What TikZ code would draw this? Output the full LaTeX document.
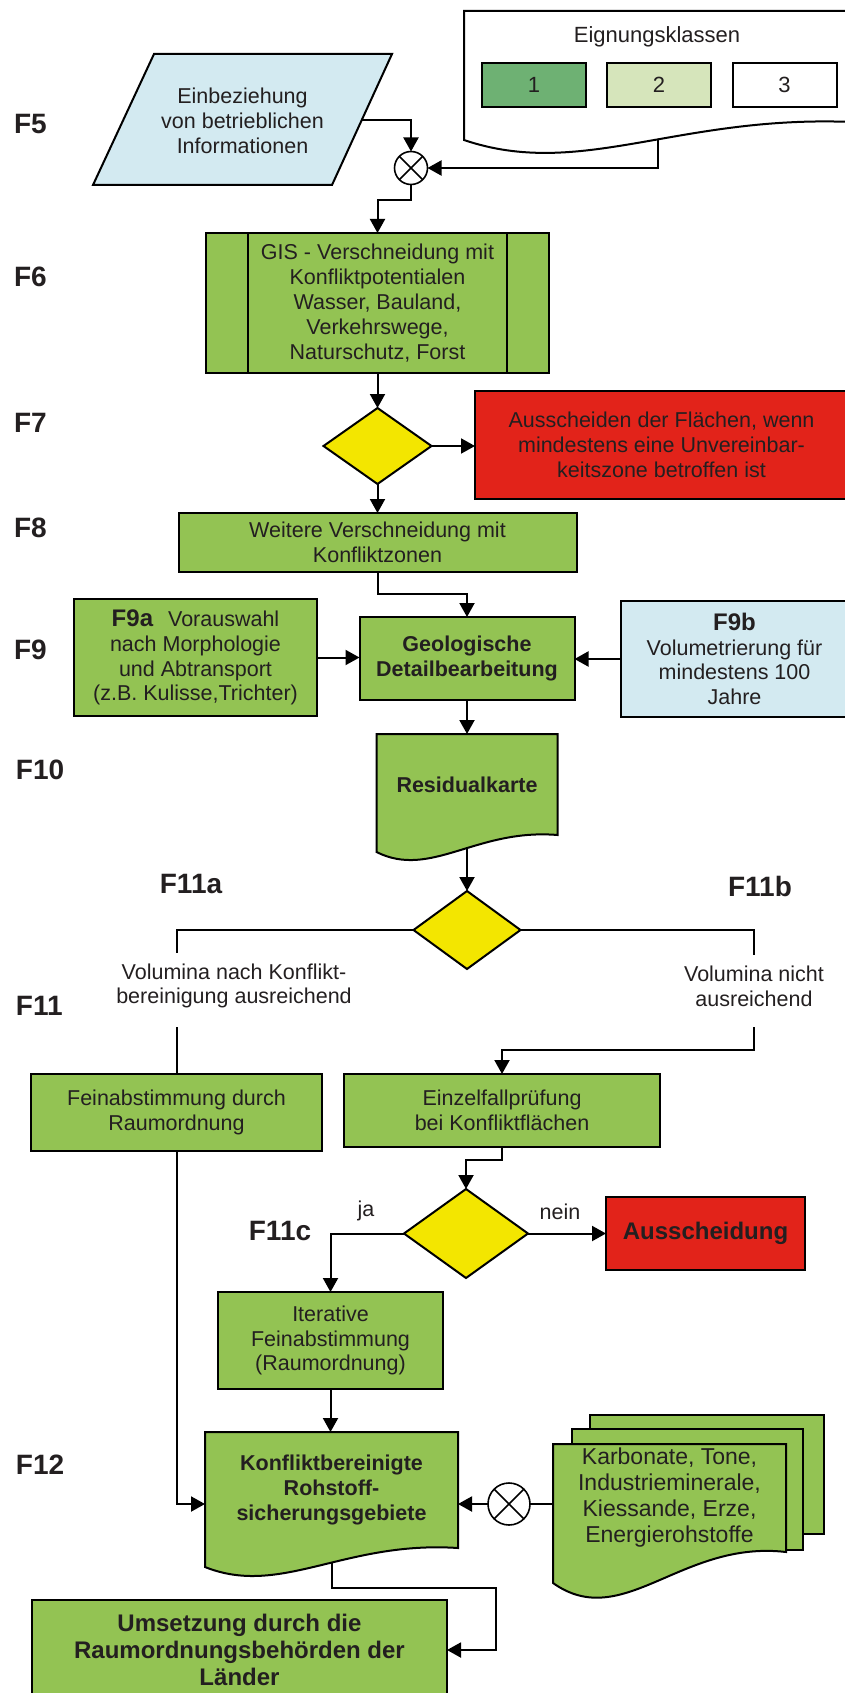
\documentclass[tikz,border=0pt]{standalone}
\usepackage{fontspec}
\setmainfont{Liberation Sans}
\usetikzlibrary{shapes.geometric,arrows.meta,calc,backgrounds}
\definecolor{flowgreen}{HTML}{93C353}
\definecolor{flowblue}{HTML}{D3EAF1}
\definecolor{flowred}{HTML}{E2231A}
\definecolor{flowyellow}{HTML}{F3E600}
\definecolor{classone}{HTML}{6EB173}
\definecolor{classtwo}{HTML}{D6E5BB}
\definecolor{inkgray}{HTML}{231F20}
\newcommand\docshape[4][]{%
  \begin{pgfonlayer}{background}
  \draw[#1] (#2.north west) -- (#2.north east) -- (#2.south east)
    .. controls ($(#2.south west)!0.55!(#2.south east)+(0,-0.4*#3)$)
           and ($(#2.south west)!0.3!(#2.south east)+(0,#4*#3)$)
    .. ($(#2.south west)+(0,#3)$) -- cycle;
  \end{pgfonlayer}}
\begin{document}
\begin{tikzpicture}[x=1pt,y=-1pt,
      every node/.style={inner sep=0pt,outer sep=0pt,align=center,text=inkgray,
                         font=\fontsize{21.5}{24.8}\selectfont},
      stage/.style={anchor=west,font=\fontsize{28}{30}\selectfont\bfseries},
      box/.style={rectangle,draw,line width=2pt,fill=flowgreen},
      redbox/.style={box,fill=flowred},
      bluebox/.style={box,fill=flowblue},
      decision/.style={diamond,draw,line width=2pt,fill=flowyellow},
      mixer/.style={circle,draw,line width=1.6pt,fill=white,minimum size=33pt,
                    path picture={\draw[line width=1.6pt]
                      (path picture bounding box.north west) -- (path picture bounding box.south east)
                      (path picture bounding box.north east) -- (path picture bounding box.south west);}},
      docbox/.style={rectangle},
      docgreen/.style={draw,line width=2pt,fill=flowgreen},
      docwhite/.style={draw,line width=2pt,fill=white},
      plainlink/.style={line width=2pt},
      arrowlink/.style={line width=2pt,-{Triangle[length=14pt,width=15pt]}}]
    \useasboundingbox (0,0) rectangle (845,1693);

    \node[stage] (lf5)  at (14,124)  {F5};
    \node[stage] (lf6)  at (14,277)  {F6};
    \node[stage] (lf7)  at (14,423)  {F7};
    \node[stage] (lf8)  at (14,528)  {F8};
    \node[stage] (lf9)  at (14,650)  {F9};
    \node[stage] (lf10) at (16,770)  {F10};
    \node[stage] (lf11) at (16,1006) {F11};
    \node[stage] (lf12) at (16,1465) {F12};
    \node[stage,anchor=center] (lf11a) at (191,884)  {F11a};
    \node[stage,anchor=center] (lf11b) at (760,886)  {F11b};
    \node[stage,anchor=center] (lf11c) at (280,1231) {F11c};

    \node[docbox,minimum width=388pt,minimum height=111pt] (eign) at (658,66.5) {};
    \docshape[docwhite]{eign}{18}{3.2}
    \node (eigntitle) at (657,37) {\fontsize{22}{24}\selectfont Eignungsklassen};
    \node[box,fill=classone,minimum width=104pt,minimum height=44pt] (k1) at (534,85)   {\fontsize{22}{24}\selectfont 1};
    \node[box,fill=classtwo,minimum width=104pt,minimum height=44pt] (k2) at (659,85)   {\fontsize{22}{24}\selectfont 2};
    \node[box,fill=white,minimum width=104pt,minimum height=44pt]    (k3) at (784.5,85) {\fontsize{22}{24}\selectfont 3};

    \node (info) at (242.5,121) {Einbeziehung\\von betrieblichen\\Informationen};
    \begin{pgfonlayer}{background}
      \draw[line width=2pt,fill=flowblue] (154,54) -- ++(238,0) -- ++(-60,131) -- ++(-239,0) -- cycle;
    \end{pgfonlayer}
    \coordinate (infoout) at (362,120);
    \coordinate (eignout) at ($(eign.south)+(0,17)$);
    \node[mixer] (mix1) at (411,168) {};
    \draw[arrowlink] (infoout) -| (mix1.north);
    \draw[arrowlink] (eignout) |- (mix1.east);

    \node[box,minimum width=343pt,minimum height=140pt] (gis) at (377.5,303)
      {GIS - Verschneidung mit\\Konfliktpotentialen\\Wasser, Bauland,\\Verkehrswege,\\Naturschutz, Forst};
    \draw[plainlink] ([xshift=42pt]gis.north west) -- ([xshift=42pt]gis.south west)
                     ([xshift=-42pt]gis.north east) -- ([xshift=-42pt]gis.south east);
    \draw[arrowlink] (mix1.south) -- ++(0,15.5) -| (gis.north);

    \node[decision,minimum width=108pt,minimum height=76pt] (d1) at (377.5,446) {};
    \node[redbox,minimum width=373pt,minimum height=108pt] (red1) at (661.5,445)
      {Ausscheiden der Flächen, wenn\\mindestens eine Unvereinbar-\\keitszone betroffen ist};
    \draw[arrowlink] (gis.south) -- (d1.north);
    \draw[arrowlink] (d1.east) -- (d1.east -| red1.west);

    \node[box,minimum width=398pt,minimum height=59pt] (f8) at (377.5,542.5) {Weitere Verschneidung mit\\Konfliktzonen};
    \draw[arrowlink] (d1.south) -- (f8.north);

    \node[box,minimum width=215pt,minimum height=83pt,font=\fontsize{21.5}{25.5}\selectfont\bfseries] (geo) at (467,658.5)
      {Geologische\\Detailbearbeitung};
    \node[box,minimum width=243pt,minimum height=117pt] (f9a) at (195.5,657.5)
      {{\fontsize{24}{25}\selectfont\bfseries F9a}\hspace{15pt}Vorauswahl\\nach Morphologie\\und Abtransport\\(z.B. Kulisse,Trichter)};
    \node[bluebox,minimum width=227pt,minimum height=116pt] (f9b) at (734.5,659)
      {{\fontsize{24}{25}\selectfont\bfseries F9b}\\Volumetrierung für\\mindestens 100\\Jahre};
    \draw[arrowlink] (f8.south) -- ++(0,22) -| (geo.north);
    \draw[arrowlink] (f9a.east) -- (f9a.east -| geo.west);
    \draw[arrowlink] (f9b.west) -- (f9b.west -| geo.east);

    \node[docbox,minimum width=181pt,minimum height=101pt,font=\fontsize{21.5}{24.8}\selectfont\bfseries] (res) at (467,784.5) {Residualkarte};
    \docshape[docgreen]{res}{17}{2.6}
    \draw[arrowlink] (geo.south) -- (res.north);

    \node[decision,minimum width=107pt,minimum height=78pt] (d2) at (467,930) {};
    \draw[arrowlink] ([yshift=-12pt]res.south) -- (d2.north);
    \node (vol1) at (234,986) {Volumina nach Konflikt-\\bereinigung ausreichend};
    \node (vol2) at (754,986) {Volumina nicht\\ausreichend};
    \coordinate (v1in)  at (176.5,953);
    \coordinate (v1out) at (176.5,1027);
    \coordinate (v2in)  at (754,955);
    \coordinate (v2out) at (754,1027);
    \draw[plainlink] (d2.west) -| (v1in);
    \draw[plainlink] (d2.east) -| (v2in);

    \node[box,minimum width=291pt,minimum height=77pt] (fein) at (176.5,1112.5) {Feinabstimmung durch\\Raumordnung};
    \node[box,minimum width=316pt,minimum height=73pt] (einz) at (502,1110.5) {Einzelfallprüfung\\bei Konfliktflächen};
    \draw[plainlink] (v1out) -- (fein.north);
    \draw[arrowlink] (v2out) -- ++(0,23) -| (einz.north);

    \node[decision,minimum width=124pt,minimum height=89pt] (d3) at (466,1233.5) {};
    \node[redbox,minimum width=199pt,minimum height=73pt,font=\fontsize{24}{26}\selectfont\bfseries] (aus) at (705.5,1233.5) {Ausscheidung};
    \draw[arrowlink] (einz.south) -- ++(0,13) -| (d3.north);
    \draw[arrowlink] (d3.east) -- (aus.west);
    \node (nein) at (560,1212) {nein};

    \node[box,minimum width=225pt,minimum height=97pt] (iter) at (330.5,1340.5) {Iterative\\Feinabstimmung\\(Raumordnung)};
    \draw[arrowlink] (d3.west) -| (iter.north);
    \node (ja) at (366,1211) {ja};

    \node[docbox,minimum width=253pt,minimum height=116pt,font=\fontsize{21.5}{25}\selectfont\bfseries] (konf) at (331.5,1490)
      {Konfliktbereinigte\\Rohstoff-\\sicherungsgebiete};
    \docshape[docgreen]{konf}{19}{2.6}
    \draw[arrowlink] (iter.south) -- (iter.south |- konf.north);

    \node[docbox,minimum width=234pt,minimum height=119pt] (stack3) at (707,1474.5) {};
    \node[docbox,minimum width=231pt,minimum height=121pt] (stack2) at (687.5,1489.5) {};
    \node[docbox,minimum width=233pt,minimum height=108pt,font=\fontsize{23}{26}\selectfont] (stack1) at (669.5,1498)
      {Karbonate, Tone,\\Industrieminerale,\\Kiessande, Erze,\\Energierohstoffe};
    \begin{pgfonlayer}{background}
      \draw[docgreen] (stack3.north west) rectangle (stack3.south east);
      \draw[docgreen] (stack2.north west) rectangle (stack2.south east);
    \end{pgfonlayer}
    \docshape[docgreen]{stack1}{31}{2.6}

    \node[mixer,minimum size=42pt] (mix2) at (509,1504) {};
    \draw[arrowlink] (mix2.west) -- (mix2.west -| konf.east);
    \draw[plainlink] (stack1.west |- mix2.east) -- (mix2.east);
    \draw[arrowlink] (fein.south) |- (mix2.west -| konf.west);

    \node[box,minimum width=415pt,minimum height=100pt,font=\fontsize{24}{27}\selectfont\bfseries] (ums) at (239.5,1650)
      {Umsetzung durch die\\Raumordnungsbehörden der\\Länder};
    \draw[arrowlink] ([yshift=-14pt]konf.south) -- ++(0,26) -| ($(ums.east)+(49,0)$) -- (ums.east);
  \end{tikzpicture}
\end{document}
